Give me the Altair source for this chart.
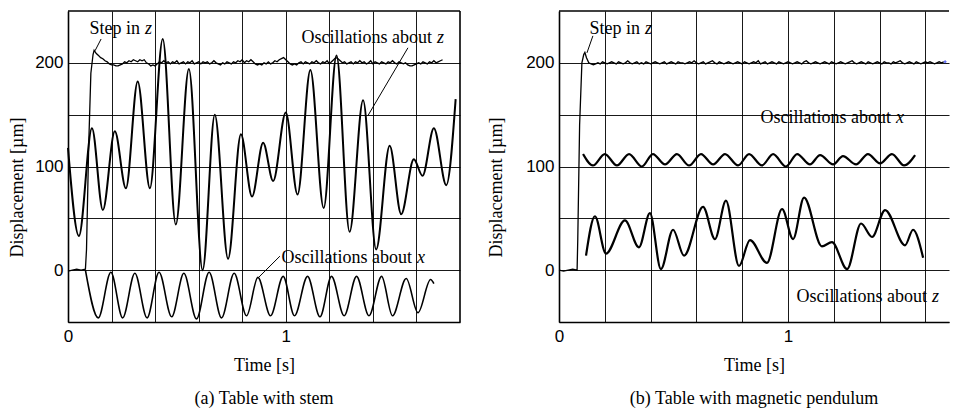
import altair as alt
import pandas as pd

# ---------------- data ----------------
# (a) Table with stem
a_step_t = [0.0, 0.02, 0.04, 0.06, 0.08, 0.085, 0.095, 0.105, 0.115, 0.12, 0.13]
a_step_v = [-1, 0, 1, 0, 1, 20, 120, 190, 208, 212, 209]
a_noise_start = 0.14
a_noise_step = 0.01
a_noise_v = [207, 205, 204, 202, 201, 199, 198, 198, 197, 197,
             198, 199, 201, 200, 202, 201, 203, 202, 201, 203,
             202, 203, 200, 199, 197, 198, 197, 199, 201, 200,
             202, 200, 201, 199, 201, 200, 202, 199, 200, 201,
             199, 201, 200, 202, 199, 200, 201, 199, 201, 200,
             201, 199, 200, 202, 200, 199, 198, 200, 199, 201,
             200, 199, 201, 200, 202, 201, 203, 200, 202, 201,
             203, 201, 199, 198, 199, 198, 200, 199, 201, 199,
             200, 202, 201, 203, 204, 205, 203, 201, 199, 198,
             199, 198, 200, 201, 199, 201, 200, 199, 201, 200,
             202, 200, 199, 201, 200, 202, 199, 201, 203, 205,
             204, 202, 200, 201, 199, 200, 201, 199, 201, 200,
             202, 200, 201, 199, 200, 202, 199, 201, 200, 199,
             201, 200, 199, 201, 200, 202, 200, 199, 201, 200,
             199, 200, 198, 197, 197, 198, 199, 200, 199, 201,
             200, 199, 201, 200, 202, 200, 201, 202, 203]

a_oz_t = [0.0, 0.05, 0.11, 0.16, 0.215, 0.266, 0.32, 0.376, 0.435, 0.495, 0.555, 0.618, 0.674,
          0.735, 0.794, 0.845, 0.896, 0.942, 1.0, 1.054, 1.113, 1.174, 1.233, 1.293, 1.355,
          1.415, 1.477, 1.53, 1.588, 1.628, 1.68, 1.737, 1.78]
a_oz_v = [118, 33, 137, 58, 134, 79, 182, 79, 223, 44, 194, 0, 150, 11, 131, 71, 123, 86, 152,
          73, 193, 60, 207, 37, 164, 20, 120, 54, 107, 91, 137, 82, 165]

a_ox_t = [0.08, 0.139, 0.197, 0.251, 0.307, 0.363, 0.418, 0.476, 0.532, 0.59, 0.648, 0.705,
          0.763, 0.82, 0.872, 0.93, 0.988, 1.04, 1.1, 1.157, 1.21, 1.268, 1.325, 1.382, 1.44,
          1.49, 1.553, 1.607, 1.665, 1.68]
a_ox_v = [0, -46, -2, -46, -3, -46, -2, -45, -3, -47, -2, -46, -3, -44, -7, -44, -6, -44, -6,
          -45, -6, -44, -6, -44, -6, -44, -8, -41, -9, -13]

# (b) Table with magnetic pendulum
b_step_t = [0.0, 0.02, 0.04, 0.06, 0.079, 0.082, 0.09, 0.1, 0.108, 0.113, 0.12, 0.13]
b_step_v = [0, -1, 0, 1, 0, 30, 140, 200, 208, 210, 205, 200]
b_noise_start = 0.14
b_noise_step = 0.01
b_noise_v = [199, 198, 199, 200, 199, 201, 200, 199, 200, 201,
             200, 199, 201, 200, 199, 200, 202, 200, 199, 200,
             201, 199, 200, 199, 201, 200, 199, 200, 201, 200,
             199, 200, 201, 199, 200, 201, 200, 199, 201, 200,
             200, 199, 200, 201, 200, 202, 200, 199, 200, 201,
             199, 200, 201, 202, 200, 199, 201, 200, 199, 200,
             201, 200, 199, 200, 201, 200, 199, 201, 200, 199,
             200, 201, 200, 202, 199, 200, 201, 199, 200, 201,
             200, 199, 201, 200, 199, 200, 201, 200, 199, 200,
             201, 200, 199, 201, 202, 200, 199, 200, 201, 200,
             199, 200, 201, 200, 199, 201, 200, 199, 200, 201,
             200, 199, 200, 201, 202, 200, 199, 200, 201, 200,
             199, 201, 200, 199, 200, 201, 200, 199, 201, 200,
             200, 199, 201, 200, 201, 202, 200, 199, 200, 201,
             200, 199, 201, 200, 199, 200, 201, 200, 201, 200,
             199, 200, 201, 200, 201]

b_ox_t = [0.105, 0.148, 0.2, 0.253, 0.306, 0.362, 0.41, 0.463, 0.515, 0.568, 0.62, 0.673,
          0.725, 0.782, 0.83, 0.886, 0.935, 0.991, 1.04, 1.096, 1.14, 1.197, 1.24, 1.297,
          1.349, 1.402, 1.454, 1.507, 1.555]
b_ox_v = [112, 101, 112, 101, 112, 100, 112, 102, 112, 101, 112, 102, 112, 101, 112, 101, 112,
          100, 112, 102, 111, 102, 110, 102, 112, 103, 112, 101, 111]

b_oz_t = [0.118, 0.157, 0.205, 0.288, 0.349, 0.397, 0.445, 0.498, 0.546, 0.629, 0.681, 0.729,
          0.786, 0.834, 0.908, 0.974, 1.022, 1.07, 1.148, 1.192, 1.258, 1.319, 1.367, 1.424,
          1.511, 1.546, 1.59]
b_oz_v = [14, 52, 16, 48, 22, 55, 1, 39, 14, 61, 30, 67, 4, 29, 7, 59, 30, 70, 23, 27, 1, 45,
          32, 58, 24, 39, 12]

b_end_t = [1.686]
b_end_v = [201]

# annotations: text split so the variable letter can be italic
a_ann_t = [0.335, 1.676, 1.584]
a_ann_v = [233, 224, 11.6]
a_ann_main = ["Step in", "Oscillations about", "Oscillations about"]
a_ann_var = ["z", "z", "x"]
a_lead_t = [0.152, 1.561, 0.973]
a_lead_v = [223, 214.5, 13.5]
a_lead_t2 = [0.124, 1.377, 0.872]
a_lead_v2 = [211.6, 149, -7.7]

b_ann_t = [0.358, 1.454, 1.611]
b_ann_v = [232.7, 147, -26]
b_ann_main = ["Step in", "Oscillations about", "Oscillations about"]
b_ann_var = ["z", "x", "z"]
b_lead_t = [0.148]
b_lead_v = [226]
b_lead_t2 = [0.122]
b_lead_v2 = [209.6]

x_grid_a = [0, 0.2, 0.4, 0.6, 0.8, 1, 1.2, 1.4, 1.6]
x_grid_b = [0, 0.2, 0.4, 0.6, 0.8, 1, 1.2, 1.4, 1.6]
y_grid = [-50, 0, 50, 100, 150, 200]

SERIF = "Liberation Serif"
SANS = "Liberation Sans"


def series(t, v, name):
    return pd.DataFrame({"t": t, "v": v, "s": name})


def noise(start, step, vals, name):
    t = [round(start + i * step, 4) for i in range(len(vals))]
    return series(t, vals, name)


def panel(xdom, xgrid, step_df, curves, ann, leads, caption, width, right_border,
          ytitle_pad, extra=None):
    xs = alt.Scale(domain=xdom, nice=False, zero=False)
    ys = alt.Scale(domain=[-50, 250], nice=False, zero=False)
    xax = alt.Axis(values=xgrid,
                   labelExpr="datum.value == 0 ? '0' : (datum.value == 1 ? '1' : '')",
                   title="Time [s]")
    yax = alt.Axis(values=y_grid,
                   labelExpr="(datum.value == 0 || datum.value == 100 || datum.value == 200) ? datum.label : ''",
                   title="Displacement [µm]", titlePadding=ytitle_pad, titleY=176)

    layers = []
    layers.append(alt.Chart(step_df).mark_line(color="black", strokeWidth=1.3).encode(
        x=alt.X("t:Q", scale=xs, axis=xax), y=alt.Y("v:Q", scale=ys, axis=yax), order="o:Q"))
    for df, w in curves:
        layers.append(alt.Chart(df).mark_line(color="black", strokeWidth=w,
                                              interpolate="monotone").encode(
            x=alt.X("t:Q", scale=xs), y=alt.Y("v:Q", scale=ys)))
    frame = pd.DataFrame({"v": [250]})
    layers.append(alt.Chart(frame).mark_rule(color="black", strokeWidth=1.6).encode(
        y=alt.Y("v:Q", scale=ys)))
    if right_border is not None:
        fr = pd.DataFrame({"t": [right_border]})
        layers.append(alt.Chart(fr).mark_rule(color="black", strokeWidth=1.6).encode(
            x=alt.X("t:Q", scale=xs)))
    layers.append(alt.Chart(leads).mark_rule(color="black", strokeWidth=1).encode(
        x=alt.X("t:Q", scale=xs), y=alt.Y("v:Q", scale=ys), x2="t2:Q", y2="v2:Q"))
    layers.append(alt.Chart(ann).mark_text(font=SERIF, fontSize=18, align="right",
                                           baseline="middle", color="black", dx=-1).encode(
        x=alt.X("t:Q", scale=xs), y=alt.Y("v:Q", scale=ys), text="main:N"))
    layers.append(alt.Chart(ann).mark_text(font=SERIF, fontSize=18, fontStyle="italic",
                                           align="left", baseline="middle", color="black",
                                           dx=4).encode(
        x=alt.X("t:Q", scale=xs), y=alt.Y("v:Q", scale=ys), text="var:N"))
    if extra is not None:
        layers.append(extra(xs, ys))

    return alt.layer(*layers).properties(
        width=width, height=311,
        title=alt.TitleParams(caption, orient="bottom", anchor="middle", offset=16))


a_step_df = pd.concat([series(a_step_t, a_step_v, "s"),
                       noise(a_noise_start, a_noise_step, a_noise_v, "s")], ignore_index=True)
a_step_df["o"] = range(len(a_step_df))
b_step_df = pd.concat([series(b_step_t, b_step_v, "s"),
                       noise(b_noise_start, b_noise_step, b_noise_v, "s")], ignore_index=True)
b_step_df["o"] = range(len(b_step_df))

a_ann = pd.DataFrame({"t": a_ann_t, "v": a_ann_v, "main": a_ann_main, "var": a_ann_var})
b_ann = pd.DataFrame({"t": b_ann_t, "v": b_ann_v, "main": b_ann_main, "var": b_ann_var})
a_leads = pd.DataFrame({"t": a_lead_t, "v": a_lead_v, "t2": a_lead_t2, "v2": a_lead_v2})
b_leads = pd.DataFrame({"t": b_lead_t, "v": b_lead_v, "t2": b_lead_t2, "v2": b_lead_v2})


def blue_end(xs, ys):
    return alt.Chart(pd.DataFrame({"t": b_end_t, "v": b_end_v})).mark_point(
        color="#2233ee", filled=True, size=12, shape="diamond").encode(
        x=alt.X("t:Q", scale=xs), y=alt.Y("v:Q", scale=ys))


left = panel([0, 1.8], x_grid_a, a_step_df,
             [(series(a_oz_t, a_oz_v, "oz"), 2.0), (series(a_ox_t, a_ox_v, "ox"), 1.6)],
             a_ann, a_leads, "(a) Table with stem", 392, 1.8, 8)
right = panel([0, 1.703], x_grid_b, b_step_df,
              [(series(b_ox_t, b_ox_v, "ox"), 2.2), (series(b_oz_t, b_oz_v, "oz"), 2.2)],
              b_ann, b_leads, "(b) Table with magnetic pendulum", 390, None, 20,
              extra=blue_end)

chart = alt.hconcat(left, right, spacing=26).properties(
    padding={"left": 0, "top": 2, "right": 0, "bottom": 0},
    background="white",
).configure_view(
    stroke=None
).configure_axis(
    grid=True, gridColor="black", gridWidth=1, gridOpacity=0.9,
    ticks=False, domain=True, domainColor="black", domainWidth=1.6,
    labelFont=SANS, labelFontSize=17, labelColor="black", labelFlush=False,
    titleFont=SERIF, titleFontWeight="normal", titleColor="black",
).configure_axisX(
    labelPadding=6, titleFontSize=18, titlePadding=12
).configure_axisY(
    labelPadding=5, titleFontSize=18
).configure_title(
    font=SERIF, fontSize=18, fontWeight="normal", color="black"
)

chart.save("out.html", embed_options={"renderer": "svg", "actions": False})
